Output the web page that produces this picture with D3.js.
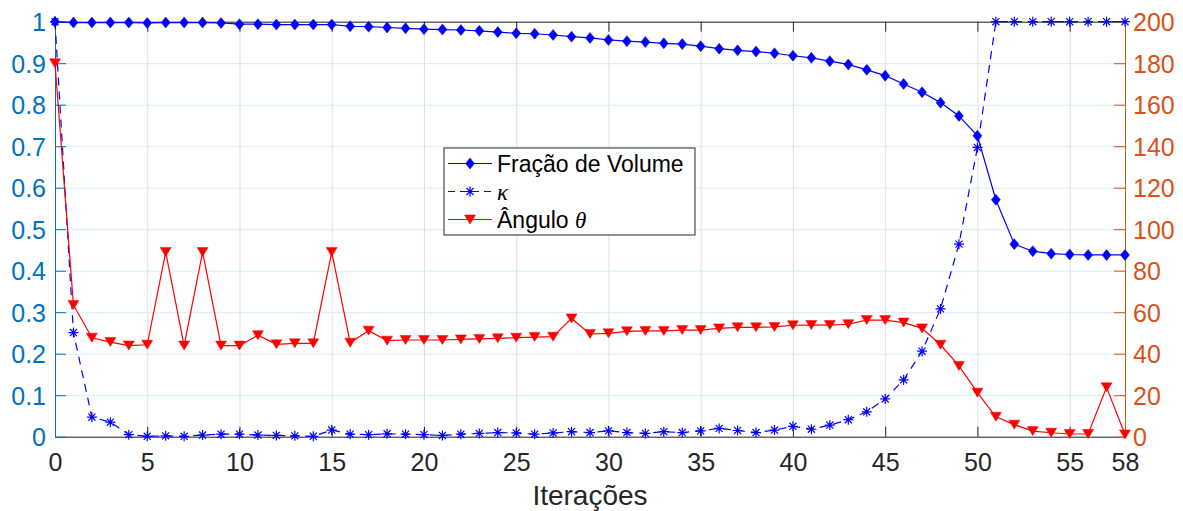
<!DOCTYPE html>
<html>
<head>
<meta charset="utf-8">
<script src="https://cdn.jsdelivr.net/npm/d3@7"></script>
<style>
  body { margin: 0; background: #fff; }
  svg { font-family: "Liberation Sans", Arial, Helvetica, sans-serif; }
</style>
</head>
<body>
<svg id="chart" width="1183" height="511"></svg>
<script>
// iterations 0..58
const iterations = d3.range(0, 59)

const volumeFraction = [
  1.000, 0.998, 0.998, 0.998, 0.998, 0.997, 0.998, 0.998, 0.998, 0.997,
  0.994, 0.994, 0.993, 0.993, 0.993, 0.993, 0.989, 0.988, 0.986, 0.984,
  0.982, 0.981, 0.980, 0.978, 0.975, 0.972, 0.971, 0.968, 0.964, 0.961,
  0.956, 0.953, 0.951, 0.948, 0.946, 0.941, 0.935, 0.931, 0.928, 0.924,
  0.918, 0.913, 0.905, 0.897, 0.884, 0.870, 0.850, 0.830, 0.805, 0.773,
  0.725, 0.571, 0.464, 0.447, 0.441, 0.439, 0.438, 0.438, 0.438
]

const kappa = [
  1.000, 0.251, 0.047, 0.035, 0.005, 0.001, 0.002, 0.001, 0.004, 0.006,
  0.006, 0.004, 0.003, 0.002, 0.001, 0.016, 0.006, 0.005, 0.007, 0.006,
  0.005, 0.003, 0.006, 0.008, 0.010, 0.009, 0.006, 0.009, 0.012, 0.010,
  0.014, 0.010, 0.008, 0.012, 0.010, 0.014, 0.020, 0.015, 0.010, 0.016,
  0.025, 0.018, 0.028, 0.041, 0.060, 0.091, 0.137, 0.206, 0.308, 0.464,
  0.697, 1.000, 1.000, 1.000, 1.000, 1.000, 1.000, 1.000, 1.000
]

const angle = [
  180, 63.5, 47.7, 45.6, 43.9, 44.3, 89, 43.9, 89, 43.9,
  43.9, 48.9, 44.5, 45, 45, 89, 45.3, 51.1, 46.3, 46.6,
  46.6, 46.6, 46.9, 47.1, 47.4, 47.7, 48.0, 48.2, 57.0, 49.5,
  49.8, 50.8, 51.0, 51.0, 51.4, 51.4, 52.2, 52.7, 52.7, 52.9,
  53.7, 53.8, 53.8, 54.2, 56.2, 56.2, 55.0, 52.2, 44.3, 34.1,
  21.2, 9.6, 5.8, 2.7, 1.9, 1.3, 1.3, 23.8, 1.1
]

const xTicks = [0, 5, 10, 15, 20, 25, 30, 35, 40, 45, 50, 55, 58]
const leftTicks = d3.range(0, 11).map(d => d / 10)
const rightTicks = d3.range(0, 201, 20)

const legendLabels = ["Fração de Volume", "κ", "Ângulo θ"]

const leftColor = "rgb(0,114,189)"
const rightColor = "rgb(217,83,25)"
const axisGray = "rgb(38,38,38)"

const margin = { left: 55, right: 58, top: 21.7, bottom: 74.3 }
const width = 1183 - margin.left - margin.right
const height = 511 - margin.top - margin.bottom

const svg = d3.select("#chart")
const g = svg.append("g").attr("transform", `translate(${margin.left},${margin.top})`)

const x = d3.scaleLinear().domain([0, 58]).range([0, width])
const yLeft = d3.scaleLinear().domain([0, 1]).range([height, 0])
const yRight = d3.scaleLinear().domain([0, 200]).range([height, 0])

// grid
g.append("g")
  .call(d3.axisBottom(x).tickValues(xTicks).tickSize(height).tickFormat(""))
  .call(a => a.select(".domain").remove())
  .selectAll("line").attr("stroke", "rgb(223,223,223)").attr("stroke-width", 1)
g.append("g")
  .call(d3.axisLeft(yLeft).tickValues(leftTicks).tickSize(-width).tickFormat(""))
  .call(a => a.select(".domain").remove())
  .selectAll("line").attr("stroke", "rgb(217,234,245)").attr("stroke-width", 1)

// top box line + ticks
g.append("g")
  .call(d3.axisTop(x).tickValues(xTicks).tickSizeInner(-10).tickSizeOuter(0).tickFormat(""))
  .call(a => a.select(".domain").attr("stroke", axisGray))
  .selectAll("line").attr("stroke", axisGray)

// bottom axis
const xAxis = g.append("g")
  .attr("transform", `translate(0,${height})`)
  .call(d3.axisBottom(x).tickValues(xTicks).tickSizeInner(-10).tickSizeOuter(0).tickPadding(17))
xAxis.select(".domain").attr("stroke", axisGray)
xAxis.selectAll("line").attr("stroke", axisGray)
xAxis.selectAll("text").attr("fill", axisGray).style("font-size", "25px")

// left axis
const leftAxis = g.append("g")
  .call(d3.axisLeft(yLeft).tickValues(leftTicks).tickSizeInner(-11).tickSizeOuter(0)
    .tickFormat(d => d === 0 ? "0" : d === 1 ? "1" : d3.format(".1f")(d)))
leftAxis.select(".domain").attr("stroke", leftColor)
leftAxis.selectAll("line").attr("stroke", leftColor)
leftAxis.selectAll("text").attr("fill", leftColor).style("font-size", "25px")
  .attr("x", -9).attr("dy", "0.36em")

// right axis
const rightAxis = g.append("g")
  .attr("transform", `translate(${width},0)`)
  .call(d3.axisRight(yRight).tickValues(rightTicks).tickSizeInner(-11).tickSizeOuter(0))
rightAxis.select(".domain").attr("stroke", rightColor)
rightAxis.selectAll("line").attr("stroke", rightColor)
rightAxis.selectAll("text").attr("fill", rightColor).style("font-size", "25px")
  .attr("x", 8).attr("dy", "0.36em")

// x label
g.append("text")
  .attr("x", x(29)).attr("y", 505 - margin.top)
  .attr("text-anchor", "middle")
  .attr("fill", axisGray)
  .style("font-size", "28px")
  .text("Iterações")

// marker paths
const diamond = (w, h) => `M0,${-h / 2}L${w / 2},0L0,${h / 2}L${-w / 2},0Z`
const triDown = (w, h) => `M${-w / 2},${-h / 2}L${w / 2},${-h / 2}L0,${h / 2}Z`
const star = r => {
  let s = ""
  for (let k = 0; k < 4; k++) {
    const a = k * Math.PI / 4
    const dx = r * Math.sin(a), dy = r * Math.cos(a)
    s += `M${-dx},${-dy}L${dx},${dy}`
  }
  return s
}

function drawSeries (values, yScale, color, dash, markerPath, filled) {
  const line = d3.line().x((d, i) => x(iterations[i])).y(d => yScale(d))
  g.append("path")
    .datum(values)
    .attr("d", line)
    .attr("fill", "none")
    .attr("stroke", color)
    .attr("stroke-width", 1.2)
    .attr("stroke-dasharray", dash)
  g.append("g")
    .selectAll("path")
    .data(values)
    .enter()
    .append("path")
    .attr("transform", (d, i) => `translate(${x(iterations[i])},${yScale(d)})`)
    .attr("d", markerPath)
    .attr("fill", filled ? color : "none")
    .attr("stroke", color)
    .attr("stroke-width", filled ? 0.5 : 1.2)
}

drawSeries(volumeFraction, yLeft, "#0000ff", null, diamond(9, 11), true)
drawSeries(kappa, yLeft, "#0000ff", "8,6", star(5), false)
drawSeries(angle, yRight, "#ff0000", null, triDown(11, 9), true)

// legend
const legend = svg.append("g").attr("transform", "translate(444,148)")
legend.append("rect")
  .attr("width", 251).attr("height", 87)
  .attr("fill", "#fff").attr("stroke", axisGray).attr("stroke-width", 1)

const legendItems = [
  { label: legendLabels[0], color: "#0000ff", dash: null, marker: diamond(9, 11), filled: true },
  { label: legendLabels[1], color: "#0000ff", dash: "7,5", marker: star(5), filled: false },
  { label: legendLabels[2], color: "#ff0000", dash: null, marker: triDown(11, 9), filled: true }
]

legendItems.forEach((item, i) => {
  const cy = 15.5 + i * 28
  const row = legend.append("g").attr("transform", `translate(0,${cy})`)
  row.append("line")
    .attr("x1", 4).attr("x2", 48).attr("y1", 0).attr("y2", 0)
    .attr("stroke", item.color).attr("stroke-width", 1.2)
    .attr("stroke-dasharray", item.dash)
  row.append("path")
    .attr("transform", "translate(26,0)")
    .attr("d", item.marker)
    .attr("fill", item.filled ? item.color : "none")
    .attr("stroke", item.color)
    .attr("stroke-width", item.filled ? 0.5 : 1.2)
  const txt = row.append("text")
    .attr("x", 53).attr("dy", "0.36em")
    .attr("fill", "#000")
    .style("font-size", "23px")
  if (i === 0) {
    txt.text(item.label)
  } else if (i === 1) {
    txt.append("tspan").style("font-family", "'Liberation Serif', 'DejaVu Serif', serif")
      .style("font-style", "italic").text(item.label)
  } else {
    txt.append("tspan").text("Ângulo ")
    txt.append("tspan").style("font-family", "'Liberation Serif', 'DejaVu Serif', serif")
      .style("font-style", "italic").text("θ")
  }
})
</script>
</body>
</html>
